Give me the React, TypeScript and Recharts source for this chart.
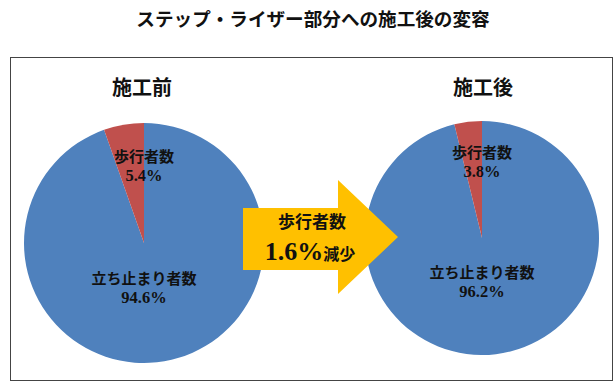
import { Cell, Pie, PieChart } from "recharts";

const categories = ["立ち止まり者数", "歩行者数"];
const beforeValues = [94.6, 5.4];
const afterValues = [96.2, 3.8];
const colors = ["#4F81BD", "#C0504D"];

const chartTitle = "ステップ・ライザー部分への施工後の変容";
const beforeTitle = "施工前";
const afterTitle = "施工後";
const arrowLabel = "歩行者数";
const arrowValue = "1.6%";
const arrowSuffix = "減少";

const beforeData = categories.map((name, i) => ({ name, value: beforeValues[i] }));
const afterData = categories.map((name, i) => ({ name, value: afterValues[i] }));

const serif = "'Liberation Serif', 'DejaVu Serif', 'Noto Sans CJK JP', serif";
const gothic = "'Noto Sans CJK JP', 'Noto Sans', sans-serif";

const RAD = Math.PI / 180;

function renderLabel(props: any) {
  const { cx, cy, midAngle, outerRadius, value } = props;
  const name = props.payload?.name ?? props.name;
  const f = name === "歩行者数" ? 0.66 : 0.37;
  const y = cy - outerRadius * f * Math.sin(midAngle * RAD);
  return (
    <text
      x={cx}
      y={y}
      textAnchor="middle"
      fontFamily={serif}
      fontWeight="bold"
      fill="#111"
    >
      <tspan x={cx} dy={-3} fontSize={15}>{name}</tspan>
      <tspan x={cx} dy={19} fontSize={16.5}>{`${Number(value).toFixed(1)}%`}</tspan>
    </text>
  );
}

export default function App() {
  return (
    <div style={{ position: "absolute", top: 0, left: 0, width: 616, height: 383, background: "#fff" }}>
      <svg width={616} height={383} style={{ position: "absolute", top: 0, left: 0 }}>
        <rect x={10.5} y={57.5} width={602} height={323} fill="#fff" stroke="#444" strokeWidth={1} />
      </svg>
      <div style={{ position: "absolute", top: 0, left: 0 }}>
        <PieChart width={616} height={383} margin={{ top: 0, right: 0, bottom: 0, left: 0 }}>
          <Pie
            data={beforeData}
            dataKey="value"
            nameKey="name"
            cx={144}
            cy={243}
            outerRadius={120}
            startAngle={90}
            endAngle={-270}
            stroke="none"
            label={renderLabel}
            labelLine={false}
            isAnimationActive={false}
          >
            {beforeData.map((d, i) => (
              <Cell key={d.name} fill={colors[i]} />
            ))}
          </Pie>
          <Pie
            data={afterData}
            dataKey="value"
            nameKey="name"
            cx={482}
            cy={238}
            outerRadius={117}
            startAngle={90}
            endAngle={-270}
            stroke="none"
            label={renderLabel}
            labelLine={false}
            isAnimationActive={false}
          >
            {afterData.map((d, i) => (
              <Cell key={d.name} fill={colors[i]} />
            ))}
          </Pie>
        </PieChart>
      </div>
      <svg width={616} height={383} style={{ position: "absolute", top: 0, left: 0, pointerEvents: "none" }}>
        <text x={313} y={26} textAnchor="middle" fontFamily={gothic} fontWeight="bold" fontSize={18.6} fill="#111">
          {chartTitle}
        </text>
        <text x={142} y={95} textAnchor="middle" fontFamily={gothic} fontWeight="bold" fontSize={20} fill="#111">
          {beforeTitle}
        </text>
        <text x={483} y={95} textAnchor="middle" fontFamily={gothic} fontWeight="bold" fontSize={20} fill="#111">
          {afterTitle}
        </text>
        <polygon points="243,208 338,208 338,180 398,237 338,294 338,270 243,270" fill="#FFC000" />
        <text x={312} y={228} textAnchor="middle" fontFamily={serif} fontWeight="bold" fontSize={17} fill="#111">
          {arrowLabel}
        </text>
        <text x={310} y={260} textAnchor="middle" fontFamily={serif} fontWeight="bold" fill="#111">
          <tspan fontSize={26}>{arrowValue}</tspan>
          <tspan fontSize={16}>{arrowSuffix}</tspan>
        </text>
      </svg>
    </div>
  );
}
